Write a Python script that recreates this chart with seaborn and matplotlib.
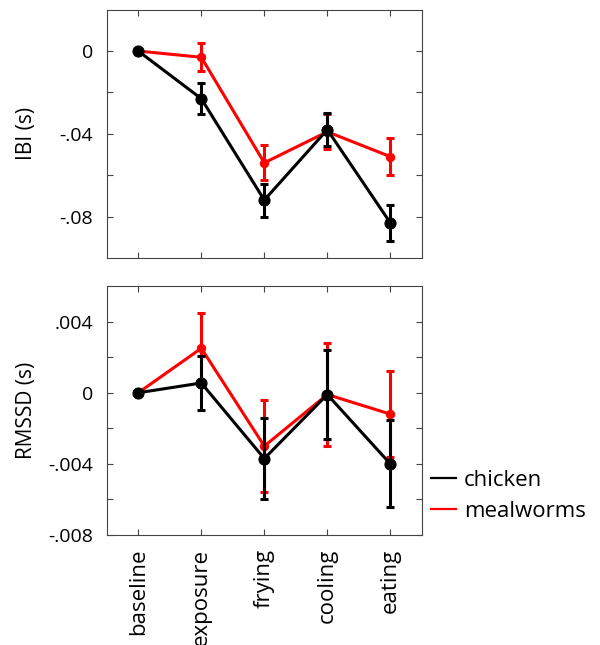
import matplotlib
matplotlib.use("Agg")
import matplotlib.pyplot as plt
import seaborn as sns
import pandas as pd

stages = ["baseline", "exposure", "frying", "cooling", "eating"]

ibi_chicken = [0.0, -0.023, -0.072, -0.038, -0.083]
ibi_chicken_err = [0.001, 0.0075, 0.008, 0.008, 0.0088]
ibi_meal = [0.0, -0.003, -0.054, -0.039, -0.051]
ibi_meal_err = [0.001, 0.0068, 0.0084, 0.0085, 0.0089]

rmssd_chicken = [0.0, 0.00055, -0.0037, -0.0001, -0.0040]
rmssd_chicken_err = [0.0001, 0.0015, 0.0023, 0.0025, 0.00245]
rmssd_meal = [0.0, 0.0025, -0.0030, -0.0001, -0.0012]
rmssd_meal_err = [0.0001, 0.002, 0.0026, 0.0029, 0.0024]

groups = ["chicken", "mealworms"]
colors = {"chicken": "black", "mealworms": "red"}

plt.rcParams["font.family"] = ["Open Sans", "DejaVu Sans"]


def draw_panel(ax, chicken, chicken_err, meal, meal_err):
    df = pd.DataFrame({
        "stage": stages * 2,
        "value": meal + chicken,
        "err": meal_err + chicken_err,
        "group": ["mealworms"] * 5 + ["chicken"] * 5,
    })
    for g, ms in [("mealworms", 6), ("chicken", 8)]:
        sub = df[df["group"] == g]
        ax.errorbar(range(len(stages)), sub["value"], yerr=sub["err"],
                    fmt="none", ecolor=colors[g], elinewidth=2.2,
                    capsize=3, capthick=2.2, zorder=2 if g == "mealworms" else 4)
        sns.lineplot(data=sub, x="stage", y="value", color=colors[g],
                     marker="o", markersize=ms, markeredgecolor=colors[g],
                     linewidth=2.2, ax=ax, sort=False, legend=False,
                     zorder=3 if g == "mealworms" else 5)
    ax.set_xlim(-0.5, 4.5)
    ax.set_xlabel("")
    ax.tick_params(direction="in", top=True, right=True, length=4,
                   color="#444444", pad=10)
    ax.tick_params(axis="y", labelsize=14)
    ax.tick_params(axis="x", labelsize=16)
    for s in ax.spines.values():
        s.set_color("#444444")
        s.set_linewidth(0.8)


fig = plt.figure(figsize=(6.0, 6.45), dpi=100)
ax1 = fig.add_axes([0.178, 0.600, 0.525, 0.385])
ax2 = fig.add_axes([0.178, 0.1705, 0.525, 0.386])

draw_panel(ax1, ibi_chicken, ibi_chicken_err, ibi_meal, ibi_meal_err)
ax1.set_ylim(-0.1, 0.02)
ax1.set_yticks([0, -0.02, -0.04, -0.06, -0.08])
ax1.set_yticklabels(["0", "", "-.04", "", "-.08"])
ax1.set_xticks(range(len(stages)))
ax1.set_xticklabels([])
ax1.set_ylabel("IBI (s)", fontsize=15)
ax1.yaxis.set_label_coords(-0.222, 0.5)

draw_panel(ax2, rmssd_chicken, rmssd_chicken_err, rmssd_meal, rmssd_meal_err)
ax2.set_ylim(-0.008, 0.006)
ax2.set_yticks([0.004, 0.002, 0, -0.002, -0.004, -0.006, -0.008])
ax2.set_yticklabels([".004", "", "0", "", "-.004", "", "-.008"])
ax2.set_xticks(range(len(stages)))
ax2.set_xticklabels(stages, rotation=90)
ax2.set_ylabel("RMSSD (s)", fontsize=15)
ax2.yaxis.set_label_coords(-0.222, 0.5)

handles = [plt.Line2D([], [], color=colors[g], linewidth=1.6) for g in groups]
fig.legend(handles, groups, loc="center left", bbox_to_anchor=(0.718, 0.231),
           frameon=False, fontsize=16, handlelength=1.15, handletextpad=0.35,
           labelspacing=0.45, borderpad=0, borderaxespad=0)

fig.savefig("out.png", dpi=100)
